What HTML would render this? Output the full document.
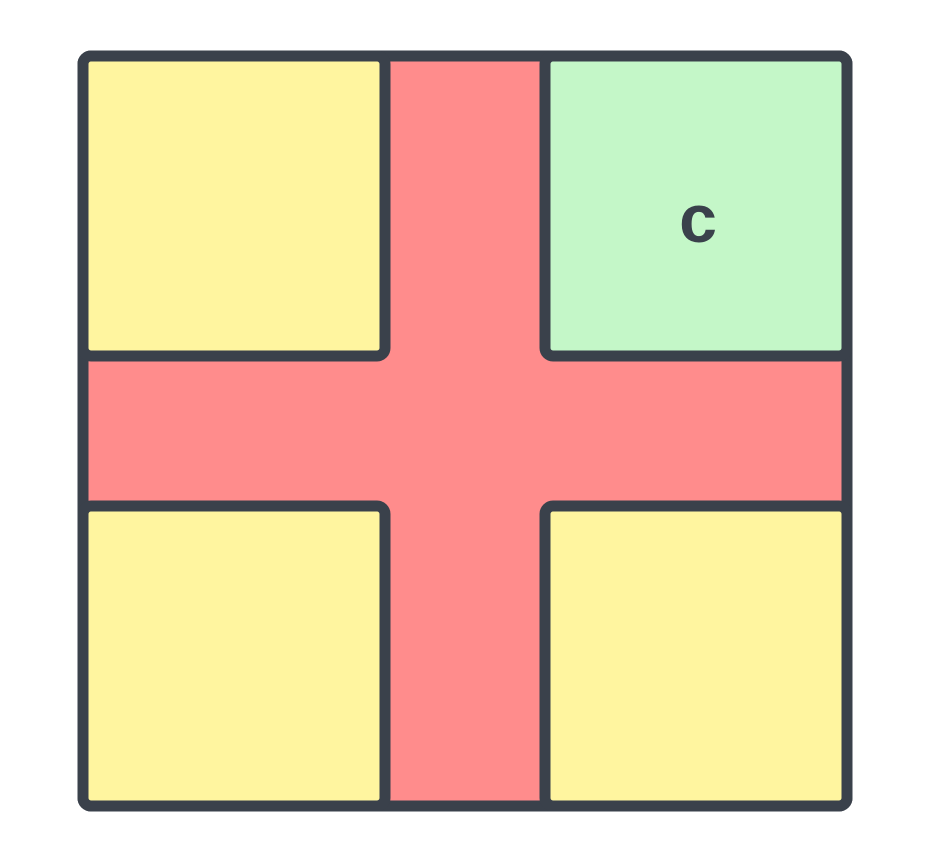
<!DOCTYPE html>
<html><head><meta charset="utf-8"><style>
html,body{margin:0;padding:0;background:#fff;}
svg{display:block;}
</style></head><body>
<svg width="932" height="863" viewBox="0 0 932 863">
  <rect x="83" y="56" width="764" height="750" rx="8" fill="#ff8c8c" stroke="#3a414b" stroke-width="11"/>
  <rect x="83" y="56" width="302" height="300" rx="8" fill="#fff59f" stroke="#3a414b" stroke-width="11"/>
  <rect x="545" y="56" width="302" height="300" rx="8" fill="#c4f7c8" stroke="#3a414b" stroke-width="11"/>
  <rect x="83" y="506" width="302" height="300" rx="8" fill="#fff59f" stroke="#3a414b" stroke-width="11"/>
  <rect x="545" y="506" width="302" height="300" rx="8" fill="#fff59f" stroke="#3a414b" stroke-width="11"/>
  <text x="698" y="242" text-anchor="middle" font-family="Liberation Sans, sans-serif" font-weight="bold" font-size="68" fill="#3a414b">c</text>
</svg>
</body></html>
